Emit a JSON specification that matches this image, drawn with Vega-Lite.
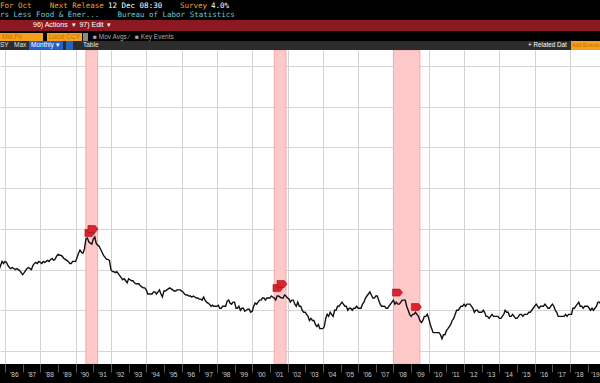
{
  "$schema": "https://vega.github.io/schema/vega-lite/v6.json",
  "background": "#000000",
  "padding": {"left": 0, "top": 0, "right": 0, "bottom": 10},
  "spacing": 0,
  "bounds": "full",
  "config": {
    "view": {"stroke": null},
    "concat": {"spacing": 0},
    "title": {"anchor": "start", "frame": "group", "orient": "top", "baseline": "top", "fontWeight": "normal", "font": "Liberation Sans", "subtitleFont": "Liberation Sans", "subtitleFontWeight": "normal"}
  },
  "vconcat": [
    {
      "hconcat": [
        {"width": 108, "height": 10, "view": {"fill": "#000000"}, "data": {"values": []}, "mark": "point", "encoding": {},
         "title": {"text": "For Oct\u00a0\u00a0\u00a0\u00a0Next Release", "font": "DejaVu Sans Mono", "fontSize": 7.5, "color": "#f0a030", "offset": -9}},
        {"width": 72, "height": 10, "view": {"fill": "#000000"}, "data": {"values": []}, "mark": "point", "encoding": {},
         "title": {"text": "12 Dec 08:30", "font": "DejaVu Sans Mono", "fontSize": 7.5, "color": "#ffffff", "offset": -9}},
        {"width": 31, "height": 10, "view": {"fill": "#000000"}, "data": {"values": []}, "mark": "point", "encoding": {},
         "title": {"text": "Survey", "font": "DejaVu Sans Mono", "fontSize": 7.5, "color": "#f0a030", "offset": -9}},
        {"width": 389, "height": 10, "view": {"fill": "#000000"}, "data": {"values": []}, "mark": "point", "encoding": {},
         "title": {"text": "4.0%", "font": "DejaVu Sans Mono", "fontSize": 7.5, "color": "#ffffff", "offset": -9}}
      ],
      "spacing": 0, "bounds": "flush"
    },
    {
      "width": 600, "height": 10, "view": {"fill": "#000000"},
      "data": {"values": []}, "mark": "point", "encoding": {},
      "title": {
        "text": "rs Less Food & Ener...\u00a0\u00a0\u00a0\u00a0Bureau of Labor Statistics",
        "font": "DejaVu Sans Mono", "fontSize": 7.5, "color": "#6ec6cc", "offset": -8
      }
    },
    {
      "width": 600, "height": 11,
      "view": {"fill": "#8c1822"},
      "data": {"values": []}, "mark": "point", "encoding": {},
      "title": {
        "text": "96) Actions\u00a0\u00a0\u25be\u00a0\u00a097) Edit\u00a0\u00a0\u25be",
        "fontSize": 7, "color": "#ffffff", "dx": 33, "offset": -8
      }
    },
    {
      "width": 600, "height": 2, "view": {"fill": "#000000"},
      "data": {"values": []}, "mark": "point", "encoding": {}
    },
    {
      "hconcat": [
        {"width": 43, "height": 8, "view": {"fill": "#f5a01e"}, "data": {"values": []}, "mark": "point", "encoding": {},
         "title": {"text": "Mid Px", "fontSize": 6.5, "color": "#c87000", "dx": 2, "offset": -7}},
        {"width": 4, "height": 8, "view": {"fill": "#000000"}, "data": {"values": []}, "mark": "point", "encoding": {}},
        {"width": 35, "height": 8, "view": {"fill": "#f5a01e"}, "data": {"values": []}, "mark": "point", "encoding": {},
         "title": {"text": "Local CCY", "fontSize": 6.5, "color": "#c87000", "dx": 2, "offset": -7}},
        {"width": 1, "height": 8, "view": {"fill": "#000000"}, "data": {"values": []}, "mark": "point", "encoding": {}},
        {"width": 5, "height": 8, "view": {"fill": "#8a8a8a"}, "data": {"values": []}, "mark": "point", "encoding": {}},
        {"width": 512, "height": 8, "view": {"fill": "#000000"}, "data": {"values": []}, "mark": "point", "encoding": {},
         "title": {"text": "\u25a0 Mov Avgs \u2215\u00a0\u00a0\u00a0\u25a0 Key Events", "fontSize": 6.5, "color": "#a8a8a8", "dx": 5, "offset": -7}}
      ],
      "spacing": 0, "bounds": "flush"
    },
    {
      "hconcat": [
        {"width": 29, "height": 9, "view": {"fill": "#2c2c2c"}, "data": {"values": []}, "mark": "point", "encoding": {},
         "title": {"text": "SY\u00a0\u00a0\u00a0Max", "fontSize": 6.5, "color": "#e0e0e0", "dx": 0, "offset": -7.5}},
        {"width": 34, "height": 9, "view": {"fill": "#2461c6"}, "data": {"values": []}, "mark": "point", "encoding": {},
         "title": {"text": "Monthly \u25be", "fontSize": 6.5, "color": "#ffffff", "dx": 2, "offset": -7.5}},
        {"width": 3, "height": 9, "view": {"fill": "#2c2c2c"}, "data": {"values": []}, "mark": "point", "encoding": {}},
        {"width": 7, "height": 9, "view": {"fill": "#2461c6"}, "data": {"values": []}, "mark": "point", "encoding": {}},
        {"width": 453, "height": 9, "view": {"fill": "#2c2c2c"}, "data": {"values": []}, "mark": "point", "encoding": {},
         "title": {"text": "Table", "fontSize": 6.5, "color": "#e0e0e0", "dx": 10, "offset": -7.5}},
        {"width": 45, "height": 9, "view": {"fill": "#2c2c2c"}, "data": {"values": []}, "mark": "point", "encoding": {},
         "title": {"text": "+ Related Dat", "fontSize": 6.3, "color": "#ffffff", "dx": 2, "offset": -7.5}},
        {"width": 29, "height": 9, "view": {"fill": "#f5a01e"}, "data": {"values": []}, "mark": "point", "encoding": {},
         "title": {"text": "Add Events", "fontSize": 5.4, "color": "#c87000", "dx": 1, "offset": -7}}
      ],
      "spacing": 0, "bounds": "flush"
    },
    {
      "width": 600, "height": 314,
      "view": {"fill": "#ffffff"},
      "encoding": {
        "x": {
          "field": "d", "type": "temporal",
          "scale": {"type": "utc", "nice": false, "domain": [
            {"year": 1985, "month": 9, "date": 19, "utc": true},
            {"year": 2019, "month": 9, "date": 13, "utc": true}
          ]},
          "axis": {
            "values": [
              {"year": 1986, "utc": true}, {"year": 1987, "utc": true}, {"year": 1988, "utc": true}, {"year": 1989, "utc": true},
              {"year": 1990, "utc": true}, {"year": 1991, "utc": true}, {"year": 1992, "utc": true}, {"year": 1993, "utc": true},
              {"year": 1994, "utc": true}, {"year": 1995, "utc": true}, {"year": 1996, "utc": true}, {"year": 1997, "utc": true},
              {"year": 1998, "utc": true}, {"year": 1999, "utc": true}, {"year": 2000, "utc": true}, {"year": 2001, "utc": true},
              {"year": 2002, "utc": true}, {"year": 2003, "utc": true}, {"year": 2004, "utc": true}, {"year": 2005, "utc": true},
              {"year": 2006, "utc": true}, {"year": 2007, "utc": true}, {"year": 2008, "utc": true}, {"year": 2009, "utc": true},
              {"year": 2010, "utc": true}, {"year": 2011, "utc": true}, {"year": 2012, "utc": true}, {"year": 2013, "utc": true},
              {"year": 2014, "utc": true}, {"year": 2015, "utc": true}, {"year": 2016, "utc": true}, {"year": 2017, "utc": true},
              {"year": 2018, "utc": true}, {"year": 2019, "utc": true}
            ],
            "labelExpr": "\"'\" + utcFormat(datum.value, '%y')",
            "title": null,
            "domain": false,
            "labelOffset": {"condition": {"test": "utcyear(datum.value) === 2019", "value": 11.5}, "value": 8.8},
            "labelAlign": {"condition": {"test": "utcyear(datum.value) === 2019", "value": "right"}, "value": "center"},
            "labelFlush": false, "labelOverlap": false, "labelBound": false,
            "labelColor": "#cfcfcf", "labelFontSize": 6.5, "labelFont": "Liberation Sans", "labelBaseline": "top", "labelPadding": -1,
            "ticks": true, "tickColor": "#555555", "tickSize": 8, "tickWidth": 1,
            "grid": true, "gridColor": "#d2d2d2", "gridWidth": 1,
            "gridOpacity": {"condition": {"test": "utcyear(datum.value) % 2 === 0", "value": 1}, "value": 0},
            "minExtent": 19, "maxExtent": 19
          }
        }
      },
      "layer": [
        {
          "data": {"values": [
            {"d": "1990-08-01", "e": "1991-04-01"},
            {"d": "2001-04-01", "e": "2001-12-01"},
            {"d": "2008-01-01", "e": "2009-07-01"}
          ]},
          "mark": {"type": "rect", "fill": "#ffc9c9", "stroke": "#f7a8a8", "strokeWidth": 1, "clip": true},
          "encoding": {
            "x2": {"field": "e"}
          }
        },
        {
          "data": {"values": [
{"d":"1985-09","v":4.0},{"d":"1985-10","v":4.2},{"d":"1985-11","v":4.4},{"d":"1985-12","v":4.3},
{"d":"1986-01","v":4.4},{"d":"1986-02","v":4.35},{"d":"1986-03","v":4.2},{"d":"1986-04","v":4.1},{"d":"1986-05","v":4.05},{"d":"1986-06","v":4.1},{"d":"1986-07","v":4.05},{"d":"1986-08","v":4.0},{"d":"1986-09","v":4.05},{"d":"1986-10","v":4.0},{"d":"1986-11","v":3.95},{"d":"1986-12","v":3.85},
{"d":"1987-01","v":3.75},{"d":"1987-02","v":3.85},{"d":"1987-03","v":3.95},{"d":"1987-04","v":4.05},{"d":"1987-05","v":4.1},{"d":"1987-06","v":4.05},{"d":"1987-07","v":4.0},{"d":"1987-08","v":4.2},{"d":"1987-09","v":4.3},{"d":"1987-10","v":4.35},{"d":"1987-11","v":4.3},{"d":"1987-12","v":4.4},
{"d":"1988-01","v":4.35},{"d":"1988-02","v":4.3},{"d":"1988-03","v":4.4},{"d":"1988-04","v":4.35},{"d":"1988-05","v":4.4},{"d":"1988-06","v":4.45},{"d":"1988-07","v":4.4},{"d":"1988-08","v":4.5},{"d":"1988-09","v":4.55},{"d":"1988-10","v":4.45},{"d":"1988-11","v":4.5},{"d":"1988-12","v":4.65},
{"d":"1989-01","v":4.75},{"d":"1989-02","v":4.7},{"d":"1989-03","v":4.7},{"d":"1989-04","v":4.65},{"d":"1989-05","v":4.55},{"d":"1989-06","v":4.5},{"d":"1989-07","v":4.45},{"d":"1989-08","v":4.4},{"d":"1989-09","v":4.3},{"d":"1989-10","v":4.3},{"d":"1989-11","v":4.4},{"d":"1989-12","v":4.4},
{"d":"1990-01","v":4.4},{"d":"1990-02","v":4.6},{"d":"1990-03","v":4.8},{"d":"1990-04","v":4.95},{"d":"1990-05","v":4.85},{"d":"1990-06","v":4.8},{"d":"1990-07","v":5.0},{"d":"1990-08","v":5.5},{"d":"1990-09","v":5.55},{"d":"1990-10","v":5.35},{"d":"1990-11","v":5.3},{"d":"1990-12","v":5.25},
{"d":"1991-01","v":5.5},{"d":"1991-02","v":5.6},{"d":"1991-03","v":5.3},{"d":"1991-04","v":5.2},{"d":"1991-05","v":5.15},{"d":"1991-06","v":5.0},{"d":"1991-07","v":4.85},{"d":"1991-08","v":4.7},{"d":"1991-09","v":4.6},{"d":"1991-10","v":4.5},{"d":"1991-11","v":4.5},{"d":"1991-12","v":4.45},
{"d":"1992-01","v":4.0},{"d":"1992-02","v":3.9},{"d":"1992-03","v":3.9},{"d":"1992-04","v":3.85},{"d":"1992-05","v":3.9},{"d":"1992-06","v":3.8},{"d":"1992-07","v":3.7},{"d":"1992-08","v":3.6},{"d":"1992-09","v":3.5},{"d":"1992-10","v":3.55},{"d":"1992-11","v":3.45},{"d":"1992-12","v":3.35},
{"d":"1993-01","v":3.55},{"d":"1993-02","v":3.5},{"d":"1993-03","v":3.45},{"d":"1993-04","v":3.45},{"d":"1993-05","v":3.35},{"d":"1993-06","v":3.3},{"d":"1993-07","v":3.3},{"d":"1993-08","v":3.3},{"d":"1993-09","v":3.2},{"d":"1993-10","v":3.15},{"d":"1993-11","v":3.1},{"d":"1993-12","v":3.1},
{"d":"1994-01","v":3.0},{"d":"1994-02","v":2.8},{"d":"1994-03","v":2.8},{"d":"1994-04","v":2.8},{"d":"1994-05","v":2.8},{"d":"1994-06","v":2.9},{"d":"1994-07","v":2.9},{"d":"1994-08","v":2.8},{"d":"1994-09","v":2.9},{"d":"1994-10","v":3.0},{"d":"1994-11","v":2.8},{"d":"1994-12","v":2.65},
{"d":"1995-01","v":2.95},{"d":"1995-02","v":2.95},{"d":"1995-03","v":3.0},{"d":"1995-04","v":3.05},{"d":"1995-05","v":3.1},{"d":"1995-06","v":3.05},{"d":"1995-07","v":3.0},{"d":"1995-08","v":2.95},{"d":"1995-09","v":2.95},{"d":"1995-10","v":3.0},{"d":"1995-11","v":3.0},{"d":"1995-12","v":3.0},
{"d":"1996-01","v":2.95},{"d":"1996-02","v":2.9},{"d":"1996-03","v":2.8},{"d":"1996-04","v":2.75},{"d":"1996-05","v":2.75},{"d":"1996-06","v":2.7},{"d":"1996-07","v":2.7},{"d":"1996-08","v":2.65},{"d":"1996-09","v":2.7},{"d":"1996-10","v":2.65},{"d":"1996-11","v":2.6},{"d":"1996-12","v":2.6},
{"d":"1997-01","v":2.55},{"d":"1997-02","v":2.55},{"d":"1997-03","v":2.5},{"d":"1997-04","v":2.65},{"d":"1997-05","v":2.5},{"d":"1997-06","v":2.4},{"d":"1997-07","v":2.35},{"d":"1997-08","v":2.3},{"d":"1997-09","v":2.2},{"d":"1997-10","v":2.25},{"d":"1997-11","v":2.2},{"d":"1997-12","v":2.2},
{"d":"1998-01","v":2.2},{"d":"1998-02","v":2.25},{"d":"1998-03","v":2.1},{"d":"1998-04","v":2.1},{"d":"1998-05","v":2.2},{"d":"1998-06","v":2.2},{"d":"1998-07","v":2.2},{"d":"1998-08","v":2.45},{"d":"1998-09","v":2.5},{"d":"1998-10","v":2.35},{"d":"1998-11","v":2.3},{"d":"1998-12","v":2.4},
{"d":"1999-01","v":2.4},{"d":"1999-02","v":2.1},{"d":"1999-03","v":2.1},{"d":"1999-04","v":2.2},{"d":"1999-05","v":2.0},{"d":"1999-06","v":2.1},{"d":"1999-07","v":2.1},{"d":"1999-08","v":1.95},{"d":"1999-09","v":2.0},{"d":"1999-10","v":2.05},{"d":"1999-11","v":2.05},{"d":"1999-12","v":1.9},
{"d":"2000-01","v":1.95},{"d":"2000-02","v":2.2},{"d":"2000-03","v":2.35},{"d":"2000-04","v":2.3},{"d":"2000-05","v":2.4},{"d":"2000-06","v":2.5},{"d":"2000-07","v":2.5},{"d":"2000-08","v":2.6},{"d":"2000-09","v":2.6},{"d":"2000-10","v":2.5},{"d":"2000-11","v":2.6},{"d":"2000-12","v":2.6},
{"d":"2001-01","v":2.6},{"d":"2001-02","v":2.7},{"d":"2001-03","v":2.65},{"d":"2001-04","v":2.6},{"d":"2001-05","v":2.5},{"d":"2001-06","v":2.7},{"d":"2001-07","v":2.7},{"d":"2001-08","v":2.65},{"d":"2001-09","v":2.6},{"d":"2001-10","v":2.6},{"d":"2001-11","v":2.75},{"d":"2001-12","v":2.7},
{"d":"2002-01","v":2.6},{"d":"2002-02","v":2.55},{"d":"2002-03","v":2.4},{"d":"2002-04","v":2.5},{"d":"2002-05","v":2.5},{"d":"2002-06","v":2.3},{"d":"2002-07","v":2.2},{"d":"2002-08","v":2.4},{"d":"2002-09","v":2.2},{"d":"2002-10","v":2.2},{"d":"2002-11","v":2.0},{"d":"2002-12","v":1.9},
{"d":"2003-01","v":1.9},{"d":"2003-02","v":1.8},{"d":"2003-03","v":1.7},{"d":"2003-04","v":1.5},{"d":"2003-05","v":1.6},{"d":"2003-06","v":1.5},{"d":"2003-07","v":1.5},{"d":"2003-08","v":1.3},{"d":"2003-09","v":1.2},{"d":"2003-10","v":1.3},{"d":"2003-11","v":1.1},{"d":"2003-12","v":1.1},
{"d":"2004-01","v":1.1},{"d":"2004-02","v":1.2},{"d":"2004-03","v":1.6},{"d":"2004-04","v":1.8},{"d":"2004-05","v":1.7},{"d":"2004-06","v":1.9},{"d":"2004-07","v":1.8},{"d":"2004-08","v":1.7},{"d":"2004-09","v":2.0},{"d":"2004-10","v":2.0},{"d":"2004-11","v":2.2},{"d":"2004-12","v":2.2},
{"d":"2005-01","v":2.3},{"d":"2005-02","v":2.4},{"d":"2005-03","v":2.3},{"d":"2005-04","v":2.2},{"d":"2005-05","v":2.2},{"d":"2005-06","v":2.0},{"d":"2005-07","v":2.1},{"d":"2005-08","v":2.1},{"d":"2005-09","v":2.0},{"d":"2005-10","v":2.1},{"d":"2005-11","v":2.1},{"d":"2005-12","v":2.2},
{"d":"2006-01","v":2.1},{"d":"2006-02","v":2.1},{"d":"2006-03","v":2.1},{"d":"2006-04","v":2.3},{"d":"2006-05","v":2.4},{"d":"2006-06","v":2.6},{"d":"2006-07","v":2.7},{"d":"2006-08","v":2.8},{"d":"2006-09","v":2.9},{"d":"2006-10","v":2.75},{"d":"2006-11","v":2.6},{"d":"2006-12","v":2.6},
{"d":"2007-01","v":2.7},{"d":"2007-02","v":2.7},{"d":"2007-03","v":2.5},{"d":"2007-04","v":2.3},{"d":"2007-05","v":2.2},{"d":"2007-06","v":2.2},{"d":"2007-07","v":2.2},{"d":"2007-08","v":2.1},{"d":"2007-09","v":2.1},{"d":"2007-10","v":2.2},{"d":"2007-11","v":2.3},{"d":"2007-12","v":2.4},
{"d":"2008-01","v":2.5},{"d":"2008-02","v":2.3},{"d":"2008-03","v":2.4},{"d":"2008-04","v":2.3},{"d":"2008-05","v":2.3},{"d":"2008-06","v":2.4},{"d":"2008-07","v":2.5},{"d":"2008-08","v":2.5},{"d":"2008-09","v":2.5},{"d":"2008-10","v":2.2},{"d":"2008-11","v":2.0},{"d":"2008-12","v":1.8},
{"d":"2009-01","v":1.7},{"d":"2009-02","v":1.8},{"d":"2009-03","v":1.8},{"d":"2009-04","v":1.9},{"d":"2009-05","v":1.8},{"d":"2009-06","v":1.7},{"d":"2009-07","v":1.5},{"d":"2009-08","v":1.4},{"d":"2009-09","v":1.5},{"d":"2009-10","v":1.7},{"d":"2009-11","v":1.7},{"d":"2009-12","v":1.8},
{"d":"2010-01","v":1.6},{"d":"2010-02","v":1.3},{"d":"2010-03","v":1.1},{"d":"2010-04","v":0.9},{"d":"2010-05","v":0.9},{"d":"2010-06","v":0.9},{"d":"2010-07","v":0.9},{"d":"2010-08","v":0.9},{"d":"2010-09","v":0.8},{"d":"2010-10","v":0.6},{"d":"2010-11","v":0.8},{"d":"2010-12","v":0.8},
{"d":"2011-01","v":1.0},{"d":"2011-02","v":1.1},{"d":"2011-03","v":1.2},{"d":"2011-04","v":1.3},{"d":"2011-05","v":1.5},{"d":"2011-06","v":1.6},{"d":"2011-07","v":1.8},{"d":"2011-08","v":2.0},{"d":"2011-09","v":2.0},{"d":"2011-10","v":2.1},{"d":"2011-11","v":2.2},{"d":"2011-12","v":2.2},
{"d":"2012-01","v":2.3},{"d":"2012-02","v":2.2},{"d":"2012-03","v":2.3},{"d":"2012-04","v":2.3},{"d":"2012-05","v":2.3},{"d":"2012-06","v":2.2},{"d":"2012-07","v":2.1},{"d":"2012-08","v":1.9},{"d":"2012-09","v":2.0},{"d":"2012-10","v":2.0},{"d":"2012-11","v":1.9},{"d":"2012-12","v":1.9},
{"d":"2013-01","v":1.9},{"d":"2013-02","v":2.0},{"d":"2013-03","v":1.9},{"d":"2013-04","v":1.7},{"d":"2013-05","v":1.7},{"d":"2013-06","v":1.6},{"d":"2013-07","v":1.7},{"d":"2013-08","v":1.8},{"d":"2013-09","v":1.7},{"d":"2013-10","v":1.7},{"d":"2013-11","v":1.7},{"d":"2013-12","v":1.7},
{"d":"2014-01","v":1.6},{"d":"2014-02","v":1.6},{"d":"2014-03","v":1.7},{"d":"2014-04","v":1.8},{"d":"2014-05","v":2.0},{"d":"2014-06","v":1.9},{"d":"2014-07","v":1.9},{"d":"2014-08","v":1.7},{"d":"2014-09","v":1.7},{"d":"2014-10","v":1.8},{"d":"2014-11","v":1.7},{"d":"2014-12","v":1.6},
{"d":"2015-01","v":1.6},{"d":"2015-02","v":1.7},{"d":"2015-03","v":1.8},{"d":"2015-04","v":1.8},{"d":"2015-05","v":1.7},{"d":"2015-06","v":1.8},{"d":"2015-07","v":1.8},{"d":"2015-08","v":1.8},{"d":"2015-09","v":1.9},{"d":"2015-10","v":1.9},{"d":"2015-11","v":2.0},{"d":"2015-12","v":2.1},
{"d":"2016-01","v":2.2},{"d":"2016-02","v":2.3},{"d":"2016-03","v":2.2},{"d":"2016-04","v":2.1},{"d":"2016-05","v":2.2},{"d":"2016-06","v":2.2},{"d":"2016-07","v":2.2},{"d":"2016-08","v":2.3},{"d":"2016-09","v":2.2},{"d":"2016-10","v":2.1},{"d":"2016-11","v":2.1},{"d":"2016-12","v":2.2},
{"d":"2017-01","v":2.3},{"d":"2017-02","v":2.2},{"d":"2017-03","v":2.0},{"d":"2017-04","v":1.9},{"d":"2017-05","v":1.7},{"d":"2017-06","v":1.7},{"d":"2017-07","v":1.7},{"d":"2017-08","v":1.7},{"d":"2017-09","v":1.7},{"d":"2017-10","v":1.8},{"d":"2017-11","v":1.7},{"d":"2017-12","v":1.8},
{"d":"2018-01","v":1.8},{"d":"2018-02","v":1.8},{"d":"2018-03","v":2.1},{"d":"2018-04","v":2.1},{"d":"2018-05","v":2.2},{"d":"2018-06","v":2.3},{"d":"2018-07","v":2.4},{"d":"2018-08","v":2.2},{"d":"2018-09","v":2.2},{"d":"2018-10","v":2.1},{"d":"2018-11","v":2.2},{"d":"2018-12","v":2.2},
{"d":"2019-01","v":2.2},{"d":"2019-02","v":2.1},{"d":"2019-03","v":2.0},{"d":"2019-04","v":2.1},{"d":"2019-05","v":2.0},{"d":"2019-06","v":2.1},{"d":"2019-07","v":2.2},{"d":"2019-08","v":2.4},{"d":"2019-09","v":2.4},{"d":"2019-10","v":2.3}
          ]},
          "mark": {"type": "line", "stroke": "#111111", "strokeWidth": 1.4, "clip": true},
          "encoding": {
            "y": {
              "field": "v", "type": "quantitative",
              "scale": {"domain": [-0.639, 14.786], "nice": false, "zero": false},
              "axis": {
                "orient": "right", "values": [0, 2, 4, 6, 8, 10, 12, 14],
                "labels": false, "ticks": false, "domain": false, "title": null,
                "grid": true, "gridColor": "#d6d6d6", "gridWidth": 1,
                "minExtent": 0, "maxExtent": 0
              }
            }
          }
        },
        {
          "data": {"values": [
            {"d": "1990-10-24", "v": 5.8},
            {"d": "1990-12-25", "v": 5.99},
            {"d": "2001-06-18", "v": 3.09},
            {"d": "2001-09-09", "v": 3.29},
            {"d": "2008-03-25", "v": 2.87},
            {"d": "2009-04-21", "v": 2.16}
          ]},
          "mark": {"type": "point", "shape": "M-1,-0.7L0.45,-0.7L1,0L0.45,0.7L-1,0.7Z", "filled": true, "fill": "#d9252d", "stroke": "#9e1119", "strokeWidth": 0.6, "size": 100, "opacity": 1},
          "encoding": {
            "y": {"field": "v", "type": "quantitative"}
          }
        }
      ]
    }
  ]
}
